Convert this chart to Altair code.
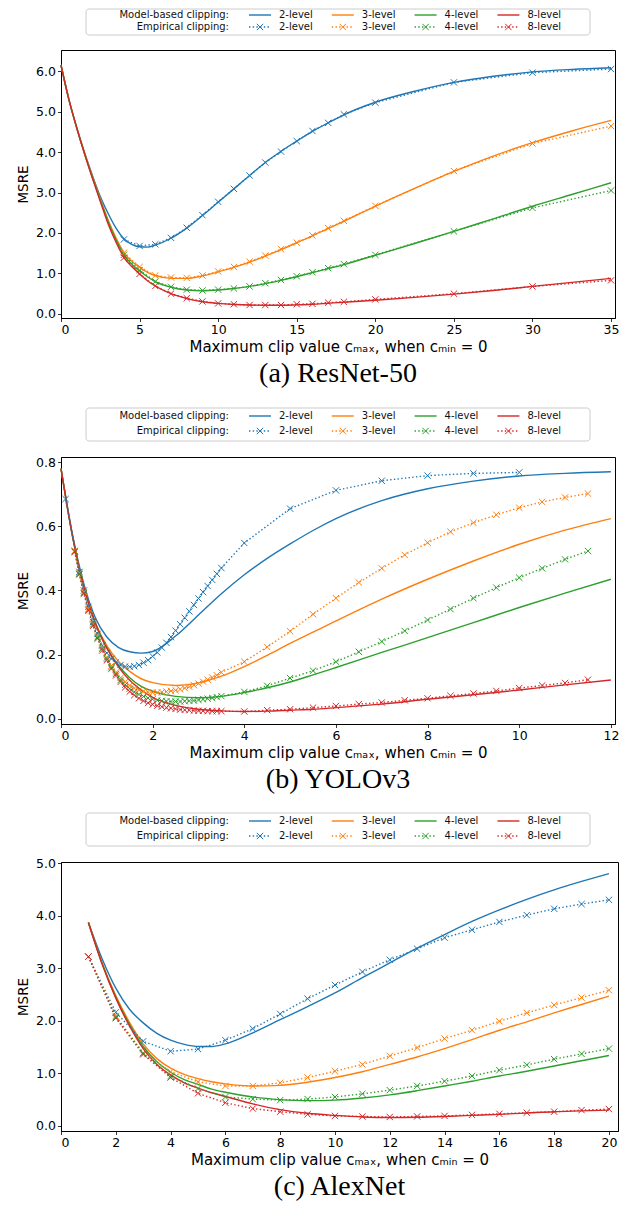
import altair as alt
import pandas as pd

LEVELS = ["2-level", "3-level", "4-level", "8-level"]
COLORS = ["#1f77b4", "#ff7f0e", "#2ca02c", "#d62728"]
ROW_LABELS = ["Model-based clipping:", "Empirical clipping:"]
XTITLE = "Maximum clip value cₘₐₓ, when cₘᵢₙ = 0"

# ---------------- (a) ResNet-50 ----------------
RN_MODEL_X = [0, 0.5, 1, 1.5, 2, 2.5, 3, 3.5, 4, 4.5, 5, 5.5, 6, 7, 8, 9, 10, 11, 12, 13, 14, 15,
              16, 17, 18, 20, 22.5, 25, 27.5, 30, 32.5, 35]
RN_MODEL_2 = [6.15, 5.3, 4.6, 3.98, 3.42, 2.9, 2.48, 2.12, 1.86, 1.72, 1.66, 1.65, 1.70, 1.87, 2.12, 2.43,
              2.76, 3.09, 3.42, 3.74, 4.02, 4.27, 4.51, 4.72, 4.92, 5.23, 5.5, 5.72, 5.87, 5.98, 6.04, 6.08]
RN_MODEL_3 = [6.15, 5.3, 4.6, 3.97, 3.39, 2.84, 2.32, 1.88, 1.52, 1.3, 1.15, 1.03, 0.95, 0.88, 0.88, 0.94,
              1.04, 1.15, 1.28, 1.43, 1.59, 1.76, 1.93, 2.11, 2.29, 2.66, 3.1, 3.52, 3.9, 4.23, 4.52, 4.78]
RN_MODEL_4 = [6.15, 5.3, 4.6, 3.96, 3.37, 2.81, 2.28, 1.83, 1.46, 1.23, 1.06, 0.92, 0.80, 0.66, 0.59, 0.57,
              0.59, 0.63, 0.68, 0.75, 0.83, 0.92, 1.02, 1.12, 1.22, 1.45, 1.74, 2.04, 2.35, 2.66, 2.95, 3.24]
RN_MODEL_8 = [6.15, 5.3, 4.6, 3.95, 3.35, 2.78, 2.22, 1.77, 1.40, 1.17, 0.99, 0.82, 0.69, 0.50, 0.38, 0.30,
              0.26, 0.235, 0.22, 0.215, 0.215, 0.225, 0.24, 0.265, 0.29, 0.34, 0.41, 0.49, 0.58, 0.68, 0.78, 0.88]
RN_EMP_X = [4, 5, 6, 7, 8, 9, 10, 11, 12, 13, 14, 15, 16, 17, 18, 20, 25, 30, 35]
RN_EMP_2 = [1.84, 1.68, 1.72, 1.88, 2.13, 2.44, 2.77, 3.09, 3.42, 3.74, 4.01, 4.27, 4.52, 4.72, 4.93, 5.22, 5.72, 5.96, 6.05]
RN_EMP_3 = [1.51, 1.16, 0.95, 0.90, 0.89, 0.95, 1.05, 1.16, 1.29, 1.44, 1.60, 1.76, 1.94, 2.12, 2.30, 2.67, 3.53, 4.21, 4.64]
RN_EMP_4 = [1.46, 1.08, 0.80, 0.67, 0.60, 0.58, 0.60, 0.63, 0.68, 0.76, 0.84, 0.93, 1.03, 1.13, 1.23, 1.46, 2.04, 2.62, 3.05]
RN_EMP_8 = [1.39, 0.99, 0.69, 0.50, 0.39, 0.31, 0.26, 0.24, 0.22, 0.22, 0.22, 0.24, 0.25, 0.28, 0.30, 0.36, 0.50, 0.68, 0.83]

# ---------------- (b) YOLOv3 ----------------
YO_MODEL_X = [0, 0.25, 0.5, 0.75, 1.0, 1.25, 1.5, 1.75, 2.0, 2.5, 3.0, 3.5, 4.0, 4.5, 5.0, 5.5, 6.0,
              7.0, 8.0, 9.0, 10.0, 11.0, 12.0]
YO_MODEL_2 = [0.78, 0.575, 0.42, 0.315, 0.255, 0.223, 0.209, 0.205, 0.21, 0.258, 0.324, 0.390, 0.449,
              0.500, 0.545, 0.587, 0.624, 0.680, 0.717, 0.741, 0.757, 0.765, 0.770]
YO_MODEL_3 = [0.78, 0.57, 0.41, 0.30, 0.228, 0.18, 0.148, 0.125, 0.113, 0.104, 0.112, 0.133, 0.163,
              0.198, 0.235, 0.27, 0.305, 0.373, 0.435, 0.492, 0.544, 0.588, 0.624]
YO_MODEL_4 = [0.78, 0.57, 0.41, 0.298, 0.222, 0.167, 0.128, 0.101, 0.086, 0.07, 0.066, 0.07, 0.082,
              0.097, 0.115, 0.137, 0.16, 0.207, 0.253, 0.30, 0.347, 0.392, 0.435]
YO_MODEL_8 = [0.78, 0.57, 0.41, 0.297, 0.22, 0.163, 0.12, 0.09, 0.067, 0.042, 0.03, 0.025, 0.023,
              0.024, 0.027, 0.030, 0.035, 0.046, 0.061, 0.075, 0.090, 0.106, 0.121]
YO_EMP_X_2 = [0.1, 0.4, 0.5, 0.6, 0.7, 0.8, 0.9, 1.0, 1.1, 1.2, 1.3, 1.4, 1.5, 1.6, 1.7, 1.8, 1.9,
              2.0, 2.1, 2.2, 2.3, 2.4, 2.5, 2.6, 2.7, 2.8, 2.9, 3.0, 3.1, 3.2, 3.3, 3.4, 3.5,
              4, 5, 6, 7, 8, 9, 10]
YO_EMP_2 = [0.685, 0.458, 0.400, 0.349, 0.302, 0.265, 0.229, 0.205, 0.187, 0.176, 0.168, 0.163, 0.162,
            0.164, 0.168, 0.175, 0.183, 0.195, 0.207, 0.222, 0.237, 0.255, 0.275, 0.295, 0.315, 0.335,
            0.355, 0.375, 0.395, 0.414, 0.433, 0.452, 0.470, 0.548, 0.655, 0.712, 0.742, 0.758, 0.765, 0.768]
YO_EMP_X = [0.3, 0.4, 0.5, 0.6, 0.7, 0.8, 0.9, 1.0, 1.1, 1.2, 1.3, 1.4, 1.5, 1.6, 1.7, 1.8, 1.9,
            2.0, 2.1, 2.2, 2.3, 2.4, 2.5, 2.6, 2.7, 2.8, 2.9, 3.0, 3.1, 3.2, 3.3, 3.4, 3.5,
            4.0, 4.5, 5.0, 5.5, 6.0, 6.5, 7.0, 7.5, 8.0, 8.5, 9.0, 9.5, 10.0, 10.5, 11.0, 11.5]
YO_EMP_3 = [0.524, 0.455, 0.395, 0.343, 0.297, 0.258, 0.222, 0.192, 0.166, 0.145, 0.128, 0.115, 0.104,
            0.096, 0.090, 0.086, 0.083, 0.082, 0.082, 0.083, 0.085, 0.087, 0.089, 0.092, 0.096, 0.100,
            0.105, 0.110, 0.116, 0.122, 0.129, 0.136, 0.145,
            0.178, 0.224, 0.273, 0.326, 0.376, 0.425, 0.469, 0.511, 0.549, 0.583, 0.611, 0.636, 0.658,
            0.676, 0.690, 0.702]
YO_EMP_4 = [0.522, 0.452, 0.392, 0.340, 0.294, 0.254, 0.218, 0.187, 0.161, 0.140, 0.121, 0.106, 0.094,
            0.084, 0.076, 0.070, 0.065, 0.061, 0.058, 0.056, 0.055, 0.054, 0.054, 0.054, 0.055, 0.056,
            0.057, 0.059, 0.061, 0.063, 0.065, 0.068, 0.071,
            0.084, 0.103, 0.127, 0.150, 0.178, 0.209, 0.241, 0.274, 0.308, 0.342, 0.376, 0.409, 0.440,
            0.469, 0.497, 0.523]
YO_EMP_8 = [0.520, 0.450, 0.390, 0.337, 0.290, 0.250, 0.213, 0.182, 0.156, 0.135, 0.115, 0.098, 0.085,
            0.074, 0.064, 0.056, 0.050, 0.045, 0.041, 0.038, 0.035, 0.033, 0.031, 0.029, 0.028, 0.027,
            0.026, 0.025, 0.025, 0.024, 0.024, 0.024, 0.024,
            0.023, 0.027, 0.030, 0.035, 0.040, 0.046, 0.051, 0.058, 0.064, 0.072, 0.079, 0.087, 0.096,
            0.104, 0.112, 0.122]

# ---------------- (c) AlexNet ----------------
AX_MODEL_X = [1, 1.5, 2, 2.5, 3, 3.5, 4, 4.5, 5, 5.5, 6, 7, 8, 9, 10, 11, 12, 13, 14, 15, 16, 17, 18, 19, 20]
AX_MODEL_2 = [3.87, 3.18, 2.62, 2.22, 1.96, 1.76, 1.63, 1.55, 1.51, 1.51, 1.56, 1.77, 2.02, 2.27, 2.53,
              2.82, 3.10, 3.38, 3.64, 3.89, 4.11, 4.31, 4.49, 4.65, 4.80]
AX_MODEL_3 = [3.87, 3.10, 2.48, 1.97, 1.56, 1.28, 1.10, 0.98, 0.90, 0.84, 0.80, 0.76, 0.77, 0.83, 0.92,
              1.03, 1.17, 1.31, 1.47, 1.64, 1.82, 1.98, 2.15, 2.31, 2.47]
AX_MODEL_4 = [3.87, 3.09, 2.45, 1.93, 1.51, 1.22, 1.02, 0.88, 0.79, 0.70, 0.64, 0.55, 0.50, 0.48, 0.49,
              0.53, 0.59, 0.67, 0.76, 0.85, 0.95, 1.04, 1.14, 1.24, 1.34]
AX_MODEL_8 = [3.87, 3.08, 2.43, 1.90, 1.47, 1.17, 0.97, 0.82, 0.72, 0.63, 0.56, 0.42, 0.31, 0.24, 0.20,
              0.17, 0.16, 0.165, 0.18, 0.20, 0.22, 0.245, 0.27, 0.285, 0.30]
AX_EMP_X = [1, 2, 3, 4, 5, 6, 7, 8, 9, 10, 11, 12, 13, 14, 15, 16, 17, 18, 19, 20]
AX_EMP_2 = [3.22, 2.16, 1.61, 1.42, 1.46, 1.63, 1.85, 2.13, 2.42, 2.68, 2.93, 3.16, 3.37, 3.58, 3.73,
            3.88, 4.01, 4.13, 4.22, 4.30]
AX_EMP_3 = [3.22, 2.09, 1.39, 1.03, 0.84, 0.76, 0.76, 0.82, 0.92, 1.04, 1.17, 1.33, 1.49, 1.66, 1.82,
            1.99, 2.15, 2.30, 2.44, 2.58]
AX_EMP_4 = [3.22, 2.07, 1.38, 0.95, 0.71, 0.55, 0.51, 0.49, 0.51, 0.55, 0.61, 0.68, 0.76, 0.85, 0.95,
            1.06, 1.16, 1.27, 1.37, 1.47]
AX_EMP_8 = [3.22, 2.05, 1.36, 0.92, 0.62, 0.44, 0.33, 0.27, 0.22, 0.19, 0.18, 0.17, 0.18, 0.19, 0.21,
            0.23, 0.25, 0.27, 0.30, 0.32]

XSHAPE = "M-1,-1L1,1M-1,1L1,-1"
FONT = "DejaVu Sans"


def long_df(xs, series):
    rows = []
    for lvl, x, vals in zip(LEVELS, xs, series):
        for c, v in zip(x, vals):
            rows.append({"level": lvl, "c": c, "v": v})
    return pd.DataFrame(rows)


def legend_layers(row_y, box_y):
    # legend layout (pixels relative to plot origin)
    x_text_right, x_line0, step, line_len, gap = 168, 188, 82.8, 22, 8
    box_x = (25, 529)
    color = alt.Color("level:N", scale=alt.Scale(domain=LEVELS, range=COLORS), legend=None)
    ent = pd.DataFrame([{"level": l, "row": r, "col": i} for r in range(2) for i, l in enumerate(LEVELS)])
    ent["x1"] = x_line0 + ent["col"] * step
    ent["x2"] = ent["x1"] + line_len
    ent["xm"] = ent["x1"] + line_len / 2
    ent["xt"] = ent["x2"] + gap
    ent["y"] = [row_y[r] for r in ent["row"]]
    rl = pd.DataFrame({"txt": ROW_LABELS, "x": [x_text_right] * 2, "y": list(row_y)})
    X = lambda f: alt.X(f, scale=None, axis=None)
    Y = lambda f: alt.Y(f, scale=None, axis=None)

    box = alt.Chart(pd.DataFrame({"a": [0]})).mark_rect(
        fill="white", stroke="#cccccc", strokeWidth=1, cornerRadius=3
    ).encode(x=alt.value(box_x[0]), x2=alt.value(box_x[1]), y=alt.value(box_y[0]), y2=alt.value(box_y[1]))
    rtext = alt.Chart(rl).mark_text(align="right", baseline="middle", font=FONT, fontSize=10, color="#111").encode(
        x=X("x:Q"), y=Y("y:Q"), text="txt:N")
    solid = alt.Chart(ent[ent["row"] == 0]).mark_rule(strokeWidth=1.4).encode(
        x=X("x1:Q"), x2="x2:Q", y=Y("y:Q"), color=color)
    dotted = alt.Chart(ent[ent["row"] == 1]).mark_rule(strokeWidth=1.4, strokeDash=[1.4, 2.3]).encode(
        x=X("x1:Q"), x2="x2:Q", y=Y("y:Q"), color=color)
    marks = alt.Chart(ent[ent["row"] == 1]).mark_point(
        shape=XSHAPE, size=40, strokeWidth=1, filled=False, opacity=1).encode(
        x=X("xm:Q"), y=Y("y:Q"), color=color)
    ltext = alt.Chart(ent).mark_text(align="left", baseline="middle", font=FONT, fontSize=10, color="#111").encode(
        x=X("xt:Q"), y=Y("y:Q"), text="level:N")
    return [box, rtext, solid, dotted, marks, ltext]


def panel(model_x, model_vals, emp_xs, emp_vals, xdom, ydom, xticks, yticks, w, h, caption,
          row_y=(-41, -26), box_y=(-49, -16)):
    mdf = long_df([model_x] * 4, model_vals)
    edf = long_df(emp_xs, emp_vals)
    color = alt.Color("level:N", scale=alt.Scale(domain=LEVELS, range=COLORS), legend=None)
    xenc = alt.X("c:Q", scale=alt.Scale(domain=xdom, nice=False, zero=False),
                 axis=alt.Axis(values=xticks, format="d", title=XTITLE))
    yenc = alt.Y("v:Q", scale=alt.Scale(domain=ydom, nice=False, zero=False),
                 axis=alt.Axis(values=yticks, format=".1f", title="MSRE"))
    model = alt.Chart(mdf).mark_line(interpolate="monotone", strokeWidth=1.4).encode(
        x=xenc, y=yenc, color=color)
    eline = alt.Chart(edf).mark_line(strokeWidth=1.4, strokeDash=[1.4, 2.3]).encode(
        x="c:Q", y="v:Q", color=color)
    epts = alt.Chart(edf).mark_point(shape=XSHAPE, size=40, strokeWidth=1, filled=False, opacity=1).encode(
        x="c:Q", y="v:Q", color=color)
    layers = [model, eline, epts] + legend_layers(row_y, box_y)
    return alt.layer(*layers).properties(
        width=w, height=h,
        title=alt.TitleParams(caption, orient="bottom", anchor="middle", font="Liberation Serif",
                              fontSize=28, fontWeight="normal", color="black", offset=6))


p1 = panel(RN_MODEL_X, [RN_MODEL_2, RN_MODEL_3, RN_MODEL_4, RN_MODEL_8],
           [RN_EMP_X] * 4, [RN_EMP_2, RN_EMP_3, RN_EMP_4, RN_EMP_8],
           [0, 35.25], [-0.1, 6.52], [0, 5, 10, 15, 20, 25, 30, 35], [0, 1, 2, 3, 4, 5, 6],
           554, 268, "(a) ResNet-50", row_y=(-35, -23), box_y=(-41, -15))
p2 = panel(YO_MODEL_X, [YO_MODEL_2, YO_MODEL_3, YO_MODEL_4, YO_MODEL_8],
           [YO_EMP_X_2, YO_EMP_X, YO_EMP_X, YO_EMP_X], [YO_EMP_2, YO_EMP_3, YO_EMP_4, YO_EMP_8],
           [0, 12.09], [-0.016, 0.816], [0, 2, 4, 6, 8, 10, 12],
           [0, 0.1, 0.2, 0.3, 0.4, 0.5, 0.6, 0.7, 0.8], 554, 267, "(b) YOLOv3")
p3 = panel(AX_MODEL_X, [AX_MODEL_2, AX_MODEL_3, AX_MODEL_4, AX_MODEL_8],
           [AX_EMP_X] * 4, [AX_EMP_2, AX_EMP_3, AX_EMP_4, AX_EMP_8],
           [0, 20.33], [-0.097, 5.02], [0, 2, 4, 6, 8, 10, 12, 14, 16, 18, 20], [0, 1, 2, 3, 4, 5],
           557, 269, "(c) AlexNet")

top = alt.vconcat(p1, p2, spacing=18)
chart = alt.vconcat(top, p3, spacing=17).properties(
    padding={"left": 8, "top": 0, "right": 0, "bottom": 0}
).configure_view(stroke="black", strokeWidth=1).configure_axis(
    grid=False, domainColor="black", domainWidth=1, tickColor="black", tickWidth=0.8, tickSize=3.5,
    labelColor="black", labelFont=FONT, labelFontSize=12.5, labelPadding=2,
    titleColor="black", titleFont=FONT, titleFontWeight="normal",
).configure_axisX(titleFontSize=15, titlePadding=3).configure_axisY(titleFontSize=13.5, titlePadding=5)

chart.save("out.html", embed_options={"renderer": "svg", "actions": False})
